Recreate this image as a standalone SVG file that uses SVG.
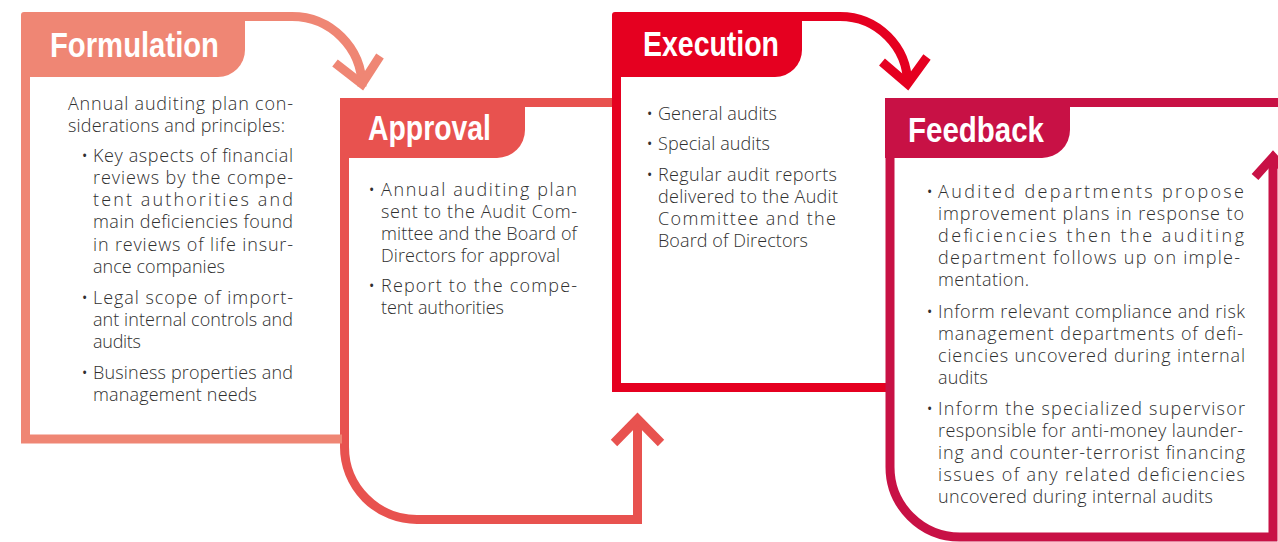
<svg xmlns="http://www.w3.org/2000/svg" width="1278" height="542" viewBox="0 0 1278 542">
<style>
.hd{font-family:"Liberation Sans Narrow","Liberation Sans",Arial,sans-serif;font-weight:bold;font-size:35px;fill:#fff}
.tx{font-family:"Open Sans","Noto Sans",sans-serif;font-weight:300;font-size:18px;fill:#2f2f2f}
.bu{font-family:"Open Sans","Noto Sans",sans-serif;font-weight:400;font-size:14px;fill:#2f2f2f}
.ln{fill:none;stroke-width:9;stroke-linejoin:miter;stroke-linecap:butt}
.f{stroke:#EF8674}.a{stroke:#E8524F}.e{stroke:#E50020}.b{stroke:#C81145}
</style>
<rect width="1278" height="542" fill="#fff"/>
<g id="connectors">
<path class="ln f" d="M240,16.5 L292,16.5 A70,70 0 0 1 362,86.5"/>
<polyline class="ln f" points="335,63 362,84 380,56"/>
<path class="ln a" d="M520,102.5 L616,102.5"/>
<path class="ln a" d="M344.5,150 L344.5,447 A72.5,72.5 0 0 0 417,519.5 L637.5,519.5 L637.5,421"/>
<polyline class="ln a" points="614,443 637.5,419 661,443"/>
<path class="ln e" d="M796,16.5 L840,16.5 A67.5,67.5 0 0 1 907.5,84"/>
<polyline class="ln e" points="882,62 907.5,84 927,57"/>
<path class="ln e" d="M616.5,70 L616.5,387.5 L890,387.5"/>
<path class="ln b" d="M1065,102.5 L1278,102.5"/>
<path class="ln b" d="M890,150 L890,467 A70,70 0 0 0 960,537 L1273,537 L1273,156"/>
<polyline class="ln b" points="1255,177 1273,157 1291,177"/>
</g>
<g id="formulation">
<path d="M21,15 Q21,12 24,12 L245,12 L245,50 A27,27 0 0 1 218,77 L21,77 Z" fill="#EF8674"/>
<path class="ln f" d="M25.5,70 L25.5,439 L342,439"/>
<text class="hd" x="50" y="57" textLength="169" lengthAdjust="spacingAndGlyphs">Formulation</text>
<text class="tx" x="68" y="110" textLength="225" lengthAdjust="spacing">Annual auditing plan con-</text>
<text class="tx" x="68" y="132" textLength="217" lengthAdjust="spacing">siderations and principles:</text>
<text class="bu" x="82" y="161">•</text>
<text class="tx" x="93" y="162" textLength="200" lengthAdjust="spacing">Key aspects of financial</text>
<text class="tx" x="93" y="184" textLength="200" lengthAdjust="spacing">reviews by the compe-</text>
<text class="tx" x="93" y="206" textLength="200" lengthAdjust="spacing">tent authorities and</text>
<text class="tx" x="93" y="228" textLength="200" lengthAdjust="spacing">main deficiencies found</text>
<text class="tx" x="93" y="251" textLength="200" lengthAdjust="spacing">in reviews of life insur-</text>
<text class="tx" x="93" y="273" textLength="132" lengthAdjust="spacing">ance companies</text>
<text class="bu" x="82" y="303">•</text>
<text class="tx" x="93" y="304" textLength="200" lengthAdjust="spacing">Legal scope of import-</text>
<text class="tx" x="93" y="326" textLength="200" lengthAdjust="spacing">ant internal controls and</text>
<text class="tx" x="93" y="348" textLength="48" lengthAdjust="spacing">audits</text>
<text class="bu" x="82" y="378">•</text>
<text class="tx" x="93" y="379" textLength="200" lengthAdjust="spacing">Business properties and</text>
<text class="tx" x="93" y="401" textLength="164" lengthAdjust="spacing">management needs</text>
</g>
<g id="approval">
<path d="M340,98 L525,98 L525,130 A28,28 0 0 1 497,158 L340,158 Z" fill="#E8524F"/>
<text class="hd" x="368" y="140" textLength="123" lengthAdjust="spacingAndGlyphs">Approval</text>
<text class="bu" x="369" y="195">•</text>
<text class="tx" x="381" y="196" textLength="196" lengthAdjust="spacing">Annual auditing plan</text>
<text class="tx" x="381" y="218" textLength="196" lengthAdjust="spacing">sent to the Audit Com-</text>
<text class="tx" x="381" y="240" textLength="196" lengthAdjust="spacing">mittee and the Board of</text>
<text class="tx" x="381" y="262" textLength="179" lengthAdjust="spacing">Directors for approval</text>
<text class="bu" x="369" y="291">•</text>
<text class="tx" x="381" y="292" textLength="196" lengthAdjust="spacing">Report to the compe-</text>
<text class="tx" x="381" y="314" textLength="123" lengthAdjust="spacing">tent authorities</text>
</g>
<g id="execution">
<path d="M612,15 Q612,12 615,12 L802,12 L802,50 A27,27 0 0 1 775,77 L612,77 Z" fill="#E50020"/>
<text class="hd" x="643" y="56" textLength="136" lengthAdjust="spacingAndGlyphs">Execution</text>
<text class="bu" x="647" y="119">•</text>
<text class="tx" x="658" y="120" textLength="119" lengthAdjust="spacing">General audits</text>
<text class="bu" x="647" y="149">•</text>
<text class="tx" x="658" y="150" textLength="112" lengthAdjust="spacing">Special audits</text>
<text class="bu" x="647" y="180">•</text>
<text class="tx" x="658" y="181" textLength="179" lengthAdjust="spacing">Regular audit reports</text>
<text class="tx" x="658" y="203" textLength="180" lengthAdjust="spacing">delivered to the Audit</text>
<text class="tx" x="658" y="225" textLength="178" lengthAdjust="spacing">Committee and the</text>
<text class="tx" x="658" y="247" textLength="150" lengthAdjust="spacing">Board of Directors</text>
</g>
<g id="feedback">
<path d="M885,98 L1070,98 L1070,130 A28,28 0 0 1 1042,158 L885,158 Z" fill="#C81145"/>
<text class="hd" x="908" y="142" textLength="136" lengthAdjust="spacingAndGlyphs">Feedback</text>
<text class="bu" x="927" y="197">•</text>
<text class="tx" x="938" y="198" textLength="306" lengthAdjust="spacing">Audited departments propose</text>
<text class="tx" x="938" y="220" textLength="306" lengthAdjust="spacing">improvement plans in response to</text>
<text class="tx" x="938" y="242" textLength="306" lengthAdjust="spacing">deficiencies then the auditing</text>
<text class="tx" x="938" y="264" textLength="302" lengthAdjust="spacing">department follows up on imple-</text>
<text class="tx" x="938" y="286" textLength="91" lengthAdjust="spacing">mentation.</text>
<text class="bu" x="927" y="317">•</text>
<text class="tx" x="938" y="318" textLength="307" lengthAdjust="spacing">Inform relevant compliance and risk</text>
<text class="tx" x="938" y="340" textLength="305" lengthAdjust="spacing">management departments of defi-</text>
<text class="tx" x="938" y="362" textLength="307" lengthAdjust="spacing">ciencies uncovered during internal</text>
<text class="tx" x="938" y="384" textLength="50" lengthAdjust="spacing">audits</text>
<text class="bu" x="927" y="414">•</text>
<text class="tx" x="938" y="415" textLength="307" lengthAdjust="spacing">Inform the specialized supervisor</text>
<text class="tx" x="938" y="437" textLength="305" lengthAdjust="spacing">responsible for anti-money launder-</text>
<text class="tx" x="938" y="459" textLength="307" lengthAdjust="spacing">ing and counter-terrorist financing</text>
<text class="tx" x="938" y="481" textLength="307" lengthAdjust="spacing">issues of any related deficiencies</text>
<text class="tx" x="938" y="503" textLength="275" lengthAdjust="spacing">uncovered during internal audits</text>
</g>
</svg>
